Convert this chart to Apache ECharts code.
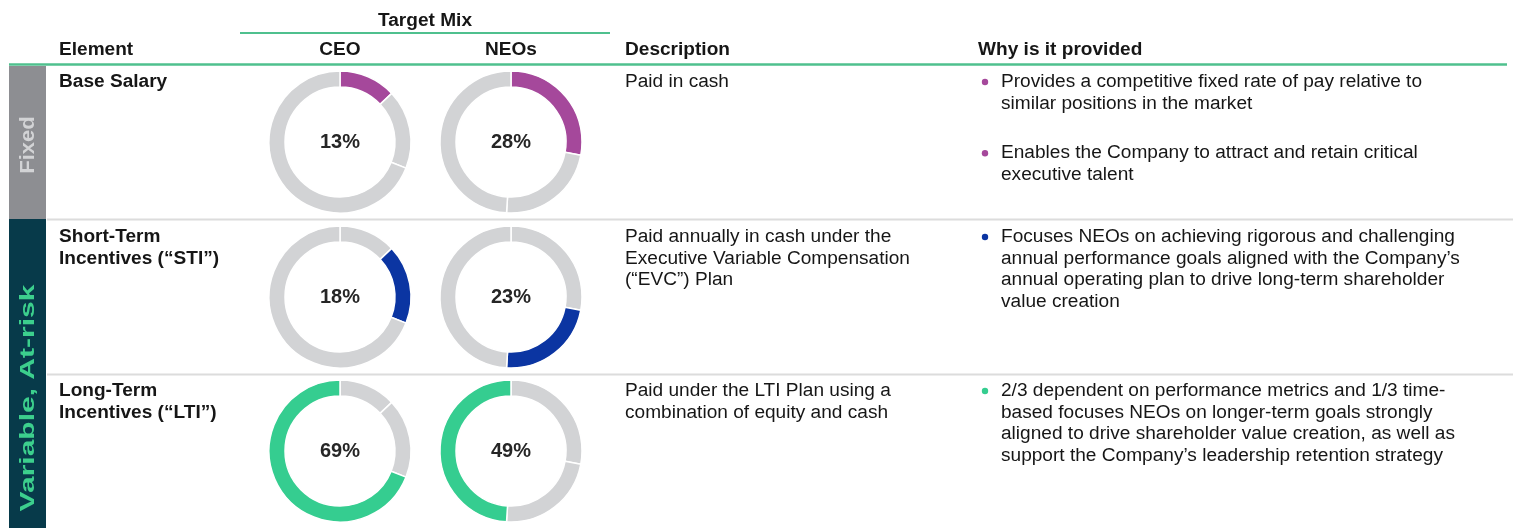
<!DOCTYPE html>
<html>
<head>
<meta charset="utf-8">
<script src="https://cdn.jsdelivr.net/npm/echarts@6/dist/echarts.min.js"></script>
<style>
  html, body { margin: 0; padding: 0; background: #fff; }
  #chart { width: 1513px; height: 528px; }
</style>
</head>
<body>
<div id="chart"></div>
<script>
// target mix (%), order: base salary, STI, LTI
const segNames = ['Base Salary', 'STI', 'LTI']
const ceoMix = [13, 18, 69]
const neoMix = [28, 23, 49]
const segColors = ['#a5489b', '#0b35a2', '#35cd90']
const ringGray = '#d2d3d5'

// table text
const headers = ['Element', 'CEO', 'NEOs', 'Description', 'Why is it provided']
const rowLabels = [
  ['Base Salary'],
  ['Short-Term', 'Incentives (“STI”)'],
  ['Long-Term', 'Incentives (“LTI”)']
]
const descriptions = [
  ['Paid in cash'],
  ['Paid annually in cash under the', 'Executive Variable Compensation', '(“EVC”) Plan'],
  ['Paid under the LTI Plan using a', 'combination of equity and cash']
]
const reasons = [
  [
    ['Provides a competitive fixed rate of pay relative to', 'similar positions in the market'],
    ['Enables the Company to attract and retain critical', 'executive talent']
  ],
  [
    ['Focuses NEOs on achieving rigorous and challenging', 'annual performance goals aligned with the Company’s',
      'annual operating plan to drive long-term shareholder', 'value creation']
  ],
  [
    ['2/3 dependent on performance metrics and 1/3 time-', 'based focuses NEOs on longer-term goals strongly',
      'aligned to drive shareholder value creation, as well as', 'support the Company’s leadership retention strategy']
  ]
]

const chart = echarts.init(document.getElementById('chart'))

const FONT = "'Liberation Sans', Arial, Helvetica, sans-serif"
const LH = 21.6
const rowY = [82, 237, 391]      // first text line of each row
const donutY = [142, 297, 451]
const colX = {element: 59, ceo: 340, neo: 511, desc: 625, why: 978, bullet: 985, whyText: 1001}

// text is a bit wider in the source, stretch it a little
const txt = (x, y, text, opts = {}) => ({
  type: 'text',
  x, y,
  scaleX: opts.sx || 1.06,
  silent: true,
  style: {
    text,
    font: (opts.bold ? 'bold ' : '') + (opts.size || 18) + 'px ' + FONT,
    fill: opts.color || '#161616',
    align: opts.align || 'left',
    verticalAlign: 'middle'
  }
})

const graphic = []
// side bands
graphic.push({type: 'rect', shape: {x: 9, y: 66, width: 37, height: 153}, style: {fill: '#8d8e92'}, silent: true})
graphic.push({type: 'rect', shape: {x: 9, y: 219, width: 37, height: 309}, style: {fill: '#073a4a'}, silent: true})
graphic.push(Object.assign(txt(28, 145, 'Fixed', {bold: true, size: 20, color: '#d2d3d5', align: 'center', sx: 1.1}), {rotation: Math.PI / 2}))
graphic.push(Object.assign(txt(28, 398, 'Variable, At-risk', {bold: true, size: 20, color: '#3ccf8d', align: 'center', sx: 1.5}), {rotation: Math.PI / 2}))

// header
graphic.push(txt(425, 21, 'Target Mix', {bold: true, align: 'center'}))
graphic.push({type: 'line', shape: {x1: 240, y1: 33, x2: 610, y2: 33}, style: {stroke: '#4fc08e', lineWidth: 2}, silent: true})
graphic.push(txt(colX.element, 50, headers[0], {bold: true}))
graphic.push(txt(colX.ceo, 50, headers[1], {bold: true, align: 'center'}))
graphic.push(txt(colX.neo, 50, headers[2], {bold: true, align: 'center'}))
graphic.push(txt(colX.desc, 50, headers[3], {bold: true}))
graphic.push(txt(colX.why, 50, headers[4], {bold: true}))
graphic.push({type: 'line', shape: {x1: 9, y1: 64.5, x2: 1507, y2: 64.5}, style: {stroke: '#4fc08e', lineWidth: 2.5}, silent: true})

// row separators
;[219.5, 374.5].forEach(y => {
  graphic.push({type: 'line', shape: {x1: 47, y1: y, x2: 1513, y2: y}, style: {stroke: '#dcdcdc', lineWidth: 2}, silent: true})
})

// row texts
rowLabels.forEach((lines, i) => {
  lines.forEach((l, k) => graphic.push(txt(colX.element, rowY[i] + k * LH, l, {bold: true})))
  descriptions[i].forEach((l, k) => graphic.push(txt(colX.desc, rowY[i] + k * LH, l)))
  let y = rowY[i]
  reasons[i].forEach((para, p) => {
    if (p > 0) y += LH * 1.3
    graphic.push({type: 'circle', shape: {cx: colX.bullet, cy: y, r: 3.2}, style: {fill: segColors[i]}, silent: true})
    para.forEach(l => {
      graphic.push(txt(colX.whyText, y, l))
      y += LH
    })
  })
})

// donuts
const series = []
const makeDonut = (mix, row, cx) => ({
  type: 'pie',
  center: [cx, donutY[row]],
  radius: [55, 71],
  startAngle: 90,
  silent: true,
  animation: false,
  emphasis: {disabled: true},
  itemStyle: {borderColor: '#fff', borderWidth: 1.5},
  labelLine: {show: false},
  data: mix.map((v, j) => ({
    value: v,
    name: segNames[j],
    itemStyle: {color: j === row ? segColors[row] : ringGray},
    label: j === row
      ? {show: true, position: 'center', formatter: '{c}%', fontSize: 20, fontWeight: 'bold', fontFamily: FONT, color: '#262626'}
      : {show: false}
  }))
})
segNames.forEach((n, row) => {
  series.push(makeDonut(ceoMix, row, colX.ceo))
  series.push(makeDonut(neoMix, row, colX.neo))
})

chart.setOption({
  backgroundColor: '#fff',
  animation: false,
  graphic,
  series
})
</script>
</body>
</html>
